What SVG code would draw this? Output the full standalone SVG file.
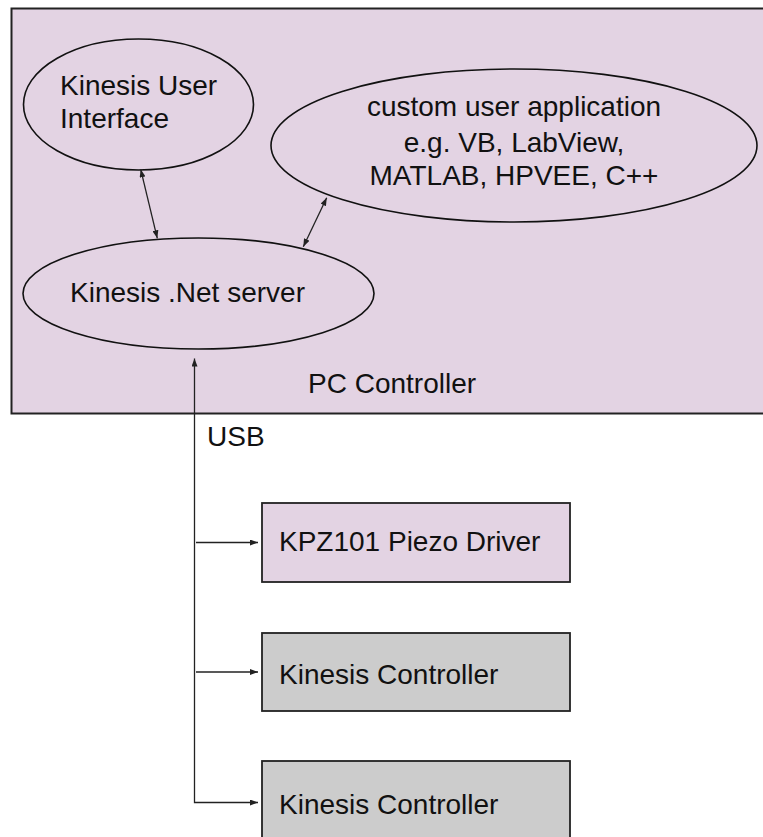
<svg xmlns="http://www.w3.org/2000/svg" width="763" height="837" viewBox="0 0 763 837">
<style>
text{font-family:"Liberation Sans",Arial,sans-serif;font-size:28px;fill:#111}
.ell{fill:#E3D3E3;stroke:#111;stroke-width:1.6}
.conn{fill:none;stroke:#222;stroke-width:1.3}
.box{stroke:#222;stroke-width:1.8}
</style>
<defs>
<marker id="ah" markerUnits="userSpaceOnUse" markerWidth="9" markerHeight="6" refX="8" refY="3" orient="auto-start-reverse">
<path d="M0,0 L8,3 L0,6 z" fill="#222"/>
</marker>
</defs>
<g id="pc">
<rect x="11.5" y="8.5" width="760" height="405" fill="#E3D3E3" stroke="#222" stroke-width="2"/>
<text x="308" y="393">PC Controller</text>
</g>
<g id="kui">
<ellipse class="ell" cx="138.5" cy="104.5" rx="115" ry="65.5"/>
<text x="60" y="95">Kinesis User</text>
<text x="60" y="128">Interface</text>
</g>
<g id="custom">
<ellipse class="ell" cx="514" cy="145.5" rx="243" ry="76.5"/>
<text x="514" y="116" text-anchor="middle">custom user application</text>
<text x="514" y="152" text-anchor="middle">e.g. VB, LabView,</text>
<text x="514" y="185" text-anchor="middle">MATLAB, HPVEE, C++</text>
</g>
<g id="server">
<ellipse class="ell" cx="198.5" cy="293.5" rx="175.5" ry="55.5"/>
<text x="70" y="302">Kinesis .Net server</text>
</g>
<g id="kpz">
<rect class="box" x="262" y="503" width="308" height="79" fill="#E3D3E3"/>
<text x="279" y="551">KPZ101 Piezo Driver</text>
</g>
<g id="kc1">
<rect class="box" x="262" y="633" width="308" height="78" fill="#CCCCCC"/>
<text x="279" y="684">Kinesis Controller</text>
</g>
<g id="kc2">
<rect class="box" x="262" y="761" width="308" height="90" fill="#CCCCCC"/>
<text x="279" y="814">Kinesis Controller</text>
</g>
<text x="207" y="446">USB</text>
<g id="connectors">
<line class="conn" x1="140.7" y1="169.3" x2="157.3" y2="238.3" marker-start="url(#ah)" marker-end="url(#ah)"/>
<line class="conn" x1="326.7" y1="197.7" x2="303.3" y2="246.7" marker-start="url(#ah)" marker-end="url(#ah)"/>
<path class="conn" d="M258,802.5 H194.5 V358.5" marker-start="url(#ah)" marker-end="url(#ah)"/>
<line class="conn" x1="196" y1="542.5" x2="258" y2="542.5" marker-end="url(#ah)"/>
<line class="conn" x1="196" y1="672" x2="258" y2="672" marker-end="url(#ah)"/>
</g>
</svg>
